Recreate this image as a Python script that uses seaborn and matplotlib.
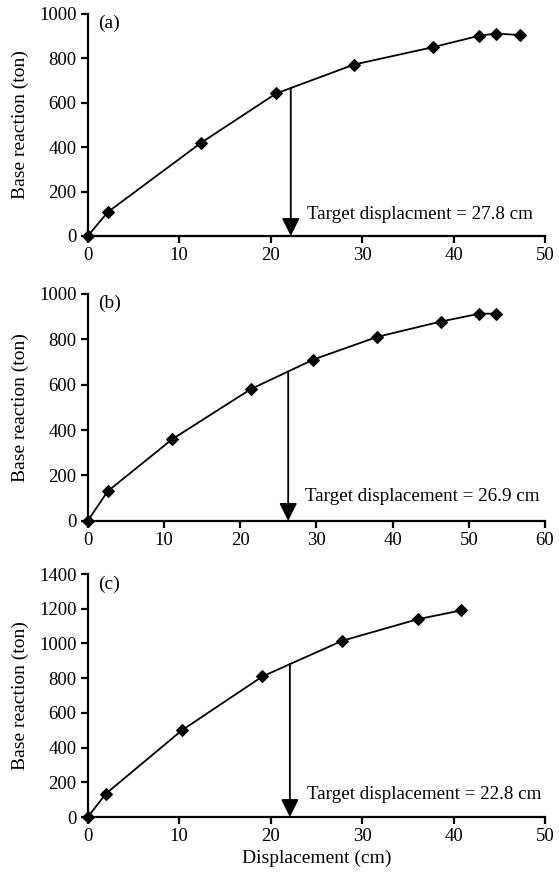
import matplotlib
matplotlib.use("Agg")
import matplotlib.pyplot as plt
import pandas as pd
import seaborn as sns

# pushover curves
DISP_A = [0, 2.2, 12.4, 20.6, 29.1, 37.7, 42.8, 44.6, 47.3]
BASE_A = [0, 108, 420, 642, 772, 850, 902, 912, 905]
DISP_B = [0, 2.6, 11.1, 21.4, 29.6, 38.0, 46.3, 51.4, 53.6]
BASE_B = [0, 130, 360, 580, 710, 810, 877, 912, 912]
DISP_C = [0, 2.0, 10.3, 19.1, 27.8, 36.1, 40.8]
BASE_C = [0, 135, 500, 810, 1015, 1140, 1190]

ARROW_X = [22.2, 26.3, 22.1]
ARROW_Y = [667, 656, 882]
TARGET_TEXT = ["Target displacment = 27.8 cm",
               "Target displacement = 26.9 cm",
               "Target displacement = 22.8 cm"]
TEXT_POS = [(24.0, 95), (28.5, 106), (24.0, 127)]
PANEL = ["(a)", "(b)", "(c)"]
XMAX = [50, 60, 50]
YMAX = [1000, 1000, 1400]


def main():
    sns.set_theme(style="ticks")
    plt.rcParams["font.family"] = ["Liberation Serif", "DejaVu Serif"]

    fig = plt.figure(figsize=(5.59, 8.74), dpi=100)
    boxes = [[0.157, 0.730, 0.818, 0.254],
             [0.157, 0.404, 0.818, 0.260],
             [0.157, 0.0652, 0.818, 0.278]]
    curves = [(DISP_A, BASE_A), (DISP_B, BASE_B), (DISP_C, BASE_C)]

    for i, (box, (xs, ys)) in enumerate(zip(boxes, curves)):
        ax = fig.add_axes(box)
        df = pd.DataFrame({"disp": xs, "base": ys})
        sns.lineplot(data=df, x="disp", y="base", ax=ax, color="black",
                     marker="D", markersize=6, linewidth=1.3,
                     markeredgecolor="black", sort=False, clip_on=False,
                     zorder=5)
        ax.set_xlim(0, XMAX[i])
        ax.set_ylim(0, YMAX[i])
        ax.set_xticks(range(0, XMAX[i] + 1, 10))
        ax.set_yticks(range(0, YMAX[i] + 1, 200))
        sns.despine(ax=ax)
        for s in ["left", "bottom"]:
            ax.spines[s].set_linewidth(1.6)
            ax.spines[s].set_color("black")
        ax.tick_params(direction="out", length=5, width=1.6, colors="black",
                       labelsize=13.5, pad=3)
        ax.set_ylabel("Base reaction (ton)", fontsize=14, color="black",
                      labelpad=7)
        ax.set_xlabel("Displacement (cm)" if i == 2 else "", fontsize=14,
                      color="black", labelpad=3)
        ax.annotate("", xy=(ARROW_X[i], 0), xytext=(ARROW_X[i], ARROW_Y[i]),
                    arrowprops=dict(arrowstyle="-|>,head_length=0.9,head_width=0.45",
                                    color="black", lw=1.3, mutation_scale=12,
                                    shrinkA=0, shrinkB=0))
        ax.text(TEXT_POS[i][0], TEXT_POS[i][1], TARGET_TEXT[i], fontsize=13.7,
                va="center", ha="left", color="black")
        ax.text(0.022, 0.995, PANEL[i], transform=ax.transAxes, fontsize=14,
                va="top", ha="left", color="black")
        ax.set_facecolor("white")

    fig.savefig("out.png", dpi=100, facecolor="white")
    plt.close(fig)


if __name__ == "__main__":
    main()
